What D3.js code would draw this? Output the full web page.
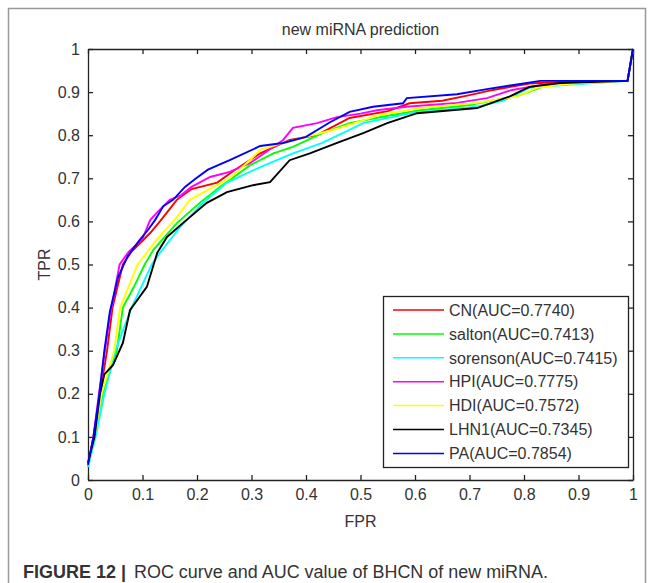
<!DOCTYPE html>
<html>
<head>
<meta charset="utf-8">
<script src="https://cdn.jsdelivr.net/npm/d3@7"></script>
<style>
  body { margin: 0; background: #fff; }
  svg { display: block; }
</style>
</head>
<body>
<div id="chart"></div>
<script>
// series names and colours, in legend order
const names = ['CN', 'salton', 'sorenson', 'HPI', 'HDI', 'LHN1', 'PA'];
const aucs = ['0.7740', '0.7413', '0.7415', '0.7775', '0.7572', '0.7345', '0.7854'];
const colors = ['#ff0000', '#00ff00', '#00ffff', '#ff00ff', '#ffff00', '#000000', '#0000ff'];

// ROC points [FPR, TPR]
const cn = [[0,0.035],[0.01,0.1],[0.022,0.2],[0.035,0.3],[0.045,0.4],[0.064,0.5],[0.08,0.53],[0.1,0.555],[0.114,0.573],[0.132,0.6],[0.163,0.65],[0.19,0.675],[0.237,0.69],[0.27,0.72],[0.316,0.758],[0.37,0.789],[0.42,0.8],[0.48,0.84],[0.55,0.856],[0.59,0.874],[0.65,0.88],[0.7,0.893],[0.743,0.905],[0.81,0.92],[0.86,0.923],[0.99,0.926],[1,1]];
const salton = [[0,0.03],[0.012,0.1],[0.027,0.2],[0.053,0.3],[0.064,0.4],[0.085,0.45],[0.104,0.5],[0.12,0.534],[0.163,0.596],[0.205,0.643],[0.242,0.68],[0.297,0.73],[0.34,0.758],[0.376,0.773],[0.43,0.805],[0.48,0.828],[0.55,0.845],[0.61,0.858],[0.7,0.87],[0.793,0.893],[0.842,0.916],[0.872,0.92],[0.99,0.926],[1,1]];
const sorenson = [[0,0.03],[0.014,0.1],[0.03,0.2],[0.05,0.3],[0.08,0.4],[0.117,0.5],[0.132,0.527],[0.169,0.587],[0.211,0.643],[0.255,0.69],[0.316,0.726],[0.376,0.758],[0.43,0.782],[0.505,0.828],[0.596,0.852],[0.714,0.866],[0.762,0.88],[0.81,0.91],[0.866,0.916],[0.99,0.926],[1,1]];
const hpi = [[0,0.035],[0.01,0.1],[0.02,0.2],[0.03,0.29],[0.04,0.38],[0.058,0.5],[0.075,0.53],[0.1,0.56],[0.114,0.603],[0.13,0.625],[0.15,0.65],[0.17,0.66],[0.19,0.68],[0.224,0.703],[0.26,0.715],[0.297,0.735],[0.358,0.789],[0.376,0.817],[0.42,0.828],[0.457,0.842],[0.5,0.85],[0.53,0.858],[0.585,0.866],[0.677,0.875],[0.732,0.886],[0.778,0.905],[0.83,0.916],[0.9,0.924],[0.99,0.926],[1,1]];
const hdi = [[0,0.035],[0.012,0.1],[0.025,0.2],[0.048,0.3],[0.059,0.4],[0.091,0.5],[0.126,0.557],[0.163,0.61],[0.187,0.65],[0.22,0.673],[0.26,0.7],[0.297,0.742],[0.316,0.766],[0.358,0.782],[0.4,0.796],[0.457,0.815],[0.536,0.847],[0.61,0.863],[0.714,0.875],[0.787,0.89],[0.824,0.91],[0.872,0.918],[0.908,0.921],[0.99,0.926],[1,1]];
const lhn1 = [[0,0.04],[0.012,0.1],[0.022,0.2],[0.03,0.245],[0.046,0.267],[0.064,0.318],[0.077,0.394],[0.108,0.448],[0.127,0.527],[0.145,0.564],[0.174,0.596],[0.218,0.643],[0.255,0.668],[0.303,0.684],[0.334,0.691],[0.37,0.742],[0.407,0.758],[0.457,0.782],[0.505,0.805],[0.549,0.828],[0.604,0.851],[0.714,0.863],[0.774,0.89],[0.81,0.912],[0.866,0.921],[0.99,0.926],[1,1]];
const pa = [[0,0.035],[0.01,0.1],[0.02,0.19],[0.03,0.3],[0.04,0.39],[0.055,0.47],[0.073,0.52],[0.095,0.557],[0.11,0.58],[0.123,0.603],[0.138,0.635],[0.156,0.65],[0.178,0.68],[0.196,0.698],[0.22,0.72],[0.26,0.742],[0.316,0.775],[0.358,0.782],[0.4,0.796],[0.444,0.83],[0.48,0.854],[0.523,0.866],[0.578,0.874],[0.585,0.886],[0.677,0.895],[0.732,0.907],[0.778,0.916],[0.83,0.926],[0.99,0.926],[1,1]];
const series = [cn, salton, sorenson, hpi, hdi, lhn1, pa];

const ticks = [0, 0.1, 0.2, 0.3, 0.4, 0.5, 0.6, 0.7, 0.8, 0.9, 1];

const W = 655, H = 583;
const m = { left: 88, right: 22, top: 49, bottom: 103 };
const font = '"Liberation Sans", Arial, sans-serif';

const svg = d3.select('#chart').append('svg').attr('width', W).attr('height', H);

// outer figure frame
svg.append('path')
  .attr('d', `M8.5,${H} V8.5 H645.5 V${H}`)
  .attr('fill', 'none').attr('stroke', '#999').attr('stroke-width', 1.5);

const x = d3.scaleLinear().domain([0, 1]).range([m.left, W - m.right]);
const y = d3.scaleLinear().domain([0, 1]).range([H - m.bottom, m.top]);

const fmt = d => d === 0 || d === 1 ? String(d) : d.toFixed(1);

// axes: bottom/left with labels, top/right plain ticks (matlab box)
const gx = svg.append('g').attr('transform', `translate(0,${y(0)})`)
  .call(d3.axisBottom(x).tickValues(ticks).tickFormat(fmt).tickSizeInner(-5).tickSizeOuter(0).tickPadding(9));
const gy = svg.append('g').attr('transform', `translate(${x(0)},0)`)
  .call(d3.axisLeft(y).tickValues(ticks).tickFormat(fmt).tickSizeInner(-5).tickSizeOuter(0).tickPadding(8));
const gt = svg.append('g').attr('transform', `translate(0,${y(1)})`)
  .call(d3.axisTop(x).tickValues(ticks).tickFormat('').tickSizeInner(-5).tickSizeOuter(0));
const gr = svg.append('g').attr('transform', `translate(${x(1)},0)`)
  .call(d3.axisRight(y).tickValues(ticks).tickFormat('').tickSizeInner(-5).tickSizeOuter(0));

[gx, gy, gt, gr].forEach(g => {
  g.selectAll('path, line').attr('stroke', '#222').attr('stroke-width', 1.3);
  g.selectAll('text').attr('fill', '#333').style('font-family', font).style('font-size', '16px');
});
gx.selectAll('text').attr('dy', '0.71em');

// curves
const line = d3.line().x(d => x(d[0])).y(d => y(d[1]));
svg.append('g').selectAll('path')
  .data(series)
  .join('path')
  .attr('d', line)
  .attr('fill', 'none')
  .attr('stroke', (d, i) => colors[i])
  .attr('stroke-width', 1.9);

// title and axis labels
svg.append('text').attr('x', x(0.5)).attr('y', 35).attr('text-anchor', 'middle')
  .style('font-family', font).style('font-size', '16px').attr('fill', '#333')
  .text('new miRNA prediction');
svg.append('text').attr('x', x(0.5)).attr('y', 527).attr('text-anchor', 'middle')
  .style('font-family', font).style('font-size', '16px').attr('fill', '#333')
  .text('FPR');
svg.append('text').attr('transform', `translate(50,${y(0.5)}) rotate(-90)`).attr('text-anchor', 'middle')
  .style('font-family', font).style('font-size', '16px').attr('fill', '#333')
  .text('TPR');

// legend
const lg = svg.append('g');
lg.append('rect').attr('x', 383.5).attr('y', 296.5).attr('width', 245).attr('height', 171)
  .attr('fill', '#fff').attr('stroke', '#222').attr('stroke-width', 1.3);
const row = lg.selectAll('g.row').data(names).join('g').attr('class', 'row')
  .attr('transform', (d, i) => `translate(0,${310 + i * 23.9})`);
row.append('line').attr('x1', 393).attr('x2', 444)
  .attr('stroke', (d, i) => colors[i]).attr('stroke-width', 1.5);
row.append('text').attr('x', 449).attr('dy', '0.36em')
  .style('font-family', font).style('font-size', '16px').attr('fill', '#333')
  .text((d, i) => `${d}(AUC=${aucs[i]})`);

// caption: bold label then plain text, each fitted to its width in the original
svg.append('text').attr('x', 23).attr('y', 578)
  .attr('textLength', 103).attr('lengthAdjust', 'spacingAndGlyphs')
  .style('font-family', font).style('font-size', '17.5px').attr('font-weight', 'bold').attr('fill', '#333')
  .text('FIGURE 12 |');
svg.append('text').attr('x', 134).attr('y', 578)
  .attr('textLength', 414).attr('lengthAdjust', 'spacingAndGlyphs')
  .style('font-family', font).style('font-size', '17.5px').attr('fill', '#333')
  .text('ROC curve and AUC value of BHCN of new miRNA.');
</script>
</body>
</html>
